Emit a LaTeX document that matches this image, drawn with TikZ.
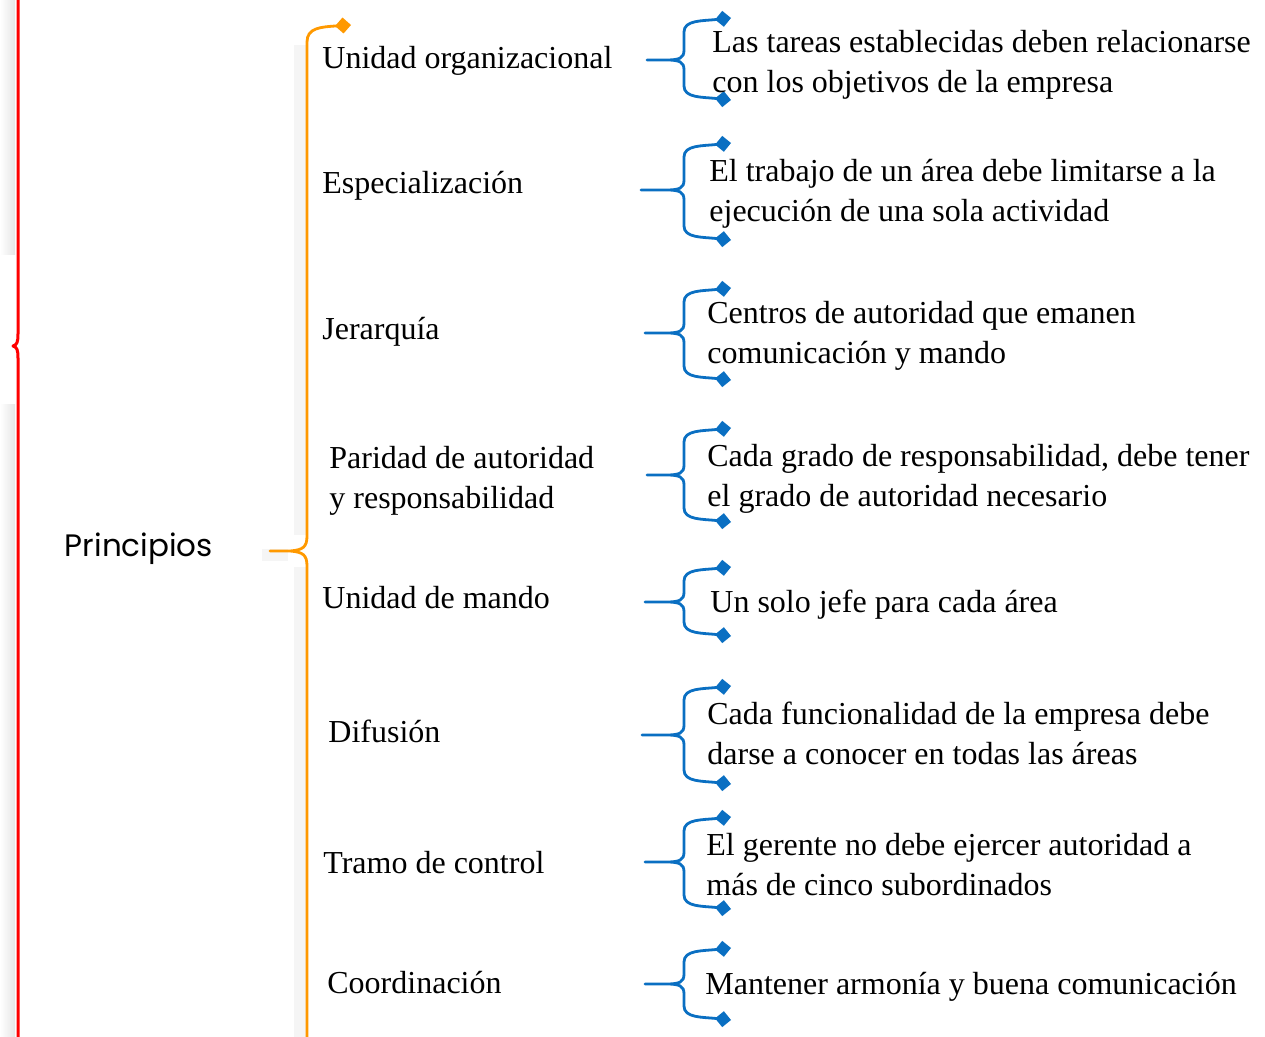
\documentclass[tikz,border=0pt]{standalone}
\usepackage{fontspec}
\setmainfont{Liberation Serif}
\newfontfamily\titulofont{Poppins}
\usepackage{xcolor}
\usetikzlibrary{arrows.meta}

\definecolor{rojollave}{HTML}{FF0000}
\definecolor{naranjallave}{HTML}{FF9900}
\definecolor{azulllave}{HTML}{0A6FC2}

\begin{document}
\begin{tikzpicture}[
    x=0.5pt, y=-0.5pt,
    font=\fontsize{16}{20}\selectfont,
    line join=round,
    rojo/.style={draw=rojollave, line width=1.5pt},
    naranja/.style={draw=naranjallave, line width=1.4pt},
    azul/.style={draw=azulllave, line width=1.4pt},
    sombra/.style={draw=black!4, line width=6pt},
    princ/.style={anchor=west, align=left, inner sep=0pt},
    desc/.style={anchor=west, align=left, inner sep=0pt},
  ]
  \useasboundingbox (0,0) rectangle (1265,1037);

  % --- Shadows ---
  \shade[left color=white, right color=black!10] (0,0) rectangle (15,255);
  \shade[left color=white, right color=black!10] (0,405) rectangle (15,1037);
  \draw[sombra] (300,45) -- (300,535);
  \draw[sombra] (300,567) -- (300,1037);
  \draw[sombra] (262,555) -- (288,555);

  % --- Red brace ---
  \draw[rojo] (18,-5) -- (18,334) .. controls (18,342) and (17,345) .. (13,346)
    .. controls (17,347) and (18,350) .. (18,358) -- (18,1045);

  % --- Title ---
  \node[font=\titulofont\fontsize{15.5}{18}\selectfont] (titulo) at (139,549) {Principios};

  % --- Orange brace ---
  \coordinate (picoP) at (270,551);
  \draw[naranja, {Diamond[length=8pt, width=8pt]}-] (351,25)
    .. controls (320,27) and (307,28) .. (307,42) -- (307,536)
    .. controls (307,547) and (303,550) .. (290,551) -- (picoP)
    -- (290,551) .. controls (303,552) and (307,555) .. (307,566) -- (307,1045);

  % --- Principles ---
  \node[princ] (p1) at (322,61) {Unidad organizacional};
  \node[princ] (p2) at (322,186) {Especialización};
  \node[princ] (p3) at (322,332) {Jerarquía};
  \node[princ] (p4) at (329,481) {Paridad de autoridad\\y responsabilidad};
  \node[princ] (p5) at (322,598) {Unidad de mando};
  \node[princ] (p6) at (328,731) {Difusión};
  \node[princ] (p7) at (323,863) {Tramo de control};
  \node[princ] (p8) at (327,983) {Coordinación};

  % --- Blue braces (top / tip / bottom / tip x) ---
  \foreach \t/\m/\b/\x [count=\i] in {18/60/100/647, 143/190/240/641, 288/333/380/645,
      428/475/522/647, 567/602/636/645, 686/735/784/642, 817/862/909/645, 948/984/1020/645} {
    \coordinate (pico\i) at (\x,\m);
    \draw[azul, {Diamond[length=8pt, width=8pt]}-{Diamond[length=8pt, width=8pt]}] (731,\t)
      .. controls (702,\t+3) and (684,\t+2) .. (684,\t+14) -- (684,\m-10)
      .. controls (684,\m-2) and (680,\m) .. (666,\m) -- (pico\i)
      -- (666,\m) .. controls (680,\m) and (684,\m+2) .. (684,\m+10) -- (684,\b-14)
      .. controls (684,\b-2) and (702,\b-3) .. (731,\b);
  }

  % --- Descriptions ---
  \node[desc] (d1) at (712,65) {Las tareas establecidas deben relacionarse\\con los objetivos de la empresa};
  \node[desc] (d2) at (709,194) {El trabajo de un área debe limitarse a la\\ejecución de una sola actividad};
  \node[desc] (d3) at (707,336) {Centros de autoridad que emanen\\comunicación y mando};
  \node[desc] (d4) at (707,479) {Cada grado de responsabilidad, debe tener\\el grado de autoridad necesario};
  \node[desc] (d5) at (710,605) {Un solo jefe para cada área};
  \node[desc] (d6) at (707,733) {Cada funcionalidad de la empresa debe\\darse a conocer en todas las áreas};
  \node[desc] (d7) at (706,865) {El gerente no debe ejercer autoridad a\\más de cinco subordinados};
  \node[desc] (d8) at (705,987) {Mantener armonía y buena comunicación};
\end{tikzpicture}
\end{document}
